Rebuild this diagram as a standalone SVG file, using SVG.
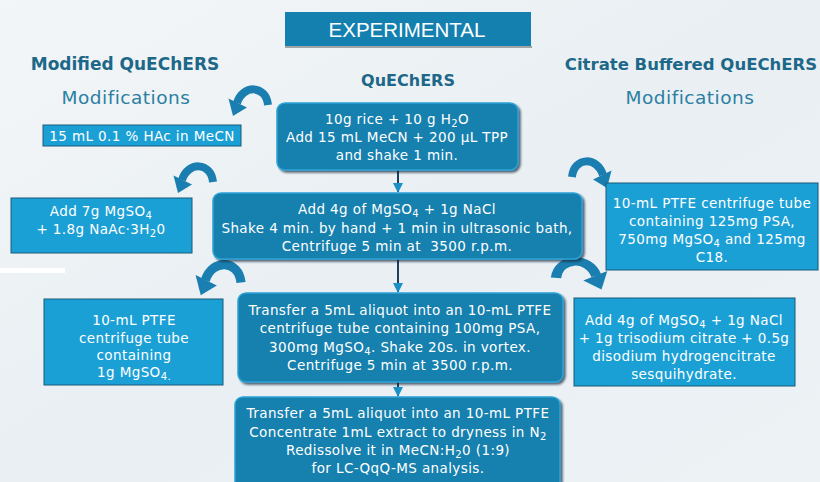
<svg xmlns="http://www.w3.org/2000/svg" xmlns:xlink="http://www.w3.org/1999/xlink" width="820" height="482" viewBox="0 0 820 482">
<defs>
<linearGradient id="bg" x1="0" y1="0" x2="1" y2="1">
<stop offset="0" stop-color="#F3F6F8"/>
<stop offset="0.5" stop-color="#E9EFF3"/>
<stop offset="1" stop-color="#EDF2F5"/>
</linearGradient>
<marker id="ah" viewBox="0 0 10 10" refX="9" refY="5" markerWidth="5" markerHeight="5" orient="auto">
<path d="M0,0 L10,5 L0,10 z" fill="#1A8FC8"/>
</marker>
<g id="carrow">
<path d="M40,17 C38,-3 15,-4 9,15" fill="none" stroke="#1A7FB0" stroke-width="8"/>
<polygon points="0.5,10.5 19,19.5 5,28" fill="#1A7FB0"/>
</g>
<filter id="sh" x="-5%" y="-5%" width="112%" height="120%">
<feDropShadow dx="2" dy="2" stdDeviation="0.8" flood-color="#0A2A3A" flood-opacity="0.7"/>
</filter>
</defs>
<style>
.t{font-family:"DejaVu Sans","Liberation Sans",sans-serif;fill:#FFFFFF;text-anchor:middle;font-size:13.5px;letter-spacing:0.4px}
.h{font-family:"DejaVu Sans","Liberation Sans",sans-serif;text-anchor:middle}
.dark{fill:#1680AE;stroke:#2BA3D6;stroke-width:1.5}
.light{fill:#1BA0D6;stroke:#1A5A78;stroke-width:1}
.conn{stroke:#1C3F5A;stroke-width:2;fill:none}
</style>
<rect x="0" y="0" width="820" height="482" fill="url(#bg)"/>
<rect x="0" y="268" width="65" height="5" fill="#FFFFFF"/>

<g id="title">
<rect x="285" y="12" width="246" height="34" fill="#1380B0"/>
<line x1="285" y1="47" x2="532" y2="47" stroke="#8A8A8A" stroke-width="1.5"/>
<text x="407" y="37" font-size="20.5" fill="#FFFFFF" text-anchor="middle" font-family="Liberation Sans, Arial, sans-serif">EXPERIMENTAL</text>
</g>

<g id="headers">
<text class="h" x="125" y="70" font-size="17" font-weight="bold" fill="#1D6888">Modified QuEChERS</text>
<text class="h" x="126" y="104" font-size="18.5" fill="#2A80A2" letter-spacing="0.5">Modifications</text>
<text class="h" x="408" y="86" font-size="16" font-weight="bold" fill="#1D6888">QuEChERS</text>
<text class="h" x="691" y="70" font-size="16.5" font-weight="bold" fill="#1D6888">Citrate Buffered QuEChERS</text>
<text class="h" x="690" y="104" font-size="18.5" fill="#2A80A2" letter-spacing="0.5">Modifications</text>
</g>

<g id="connectors">
<line class="conn" x1="398" y1="170" x2="398" y2="192" marker-end="url(#ah)"/>
<line class="conn" x1="398" y1="259" x2="398" y2="292" marker-end="url(#ah)"/>
<line class="conn" x1="398" y1="382" x2="398" y2="396" marker-end="url(#ah)"/>
<use xlink:href="#carrow" transform="translate(228,88)"/>
<use xlink:href="#carrow" transform="translate(173,165)"/>
<use xlink:href="#carrow" transform="translate(195,263) scale(1.15)"/>
<use xlink:href="#carrow" transform="translate(612,160) scale(-1,1)"/>
<use xlink:href="#carrow" transform="translate(608,260) scale(-1.3,1.05)"/>
</g>

<g id="step1">
<rect class="dark" x="277" y="103" width="241" height="67" rx="8" filter="url(#sh)"/>
<text class="t" x="397" y="124">10g rice + 10 g H<tspan font-size="10" dy="3">2</tspan><tspan dy="-3">O</tspan></text>
<text class="t" x="397" y="142">Add 15 mL MeCN + 200 µL TPP</text>
<text class="t" x="397" y="160">and shake 1 min.</text>
</g>

<g id="step2">
<rect class="dark" x="213" y="193" width="369" height="66" rx="8" filter="url(#sh)"/>
<text class="t" x="397" y="214">Add 4g of MgSO<tspan font-size="10" dy="3">4</tspan><tspan dy="-3"> + 1g NaCl</tspan></text>
<text class="t" x="397" y="233">Shake 4 min. by hand + 1 min in ultrasonic bath,</text>
<text class="t" x="397" y="251" xml:space="preserve">Centrifuge 5 min at  3500 r.p.m.</text>
</g>

<g id="step3">
<rect class="dark" x="238" y="293" width="325" height="89" rx="8" filter="url(#sh)"/>
<text class="t" x="400" y="315">Transfer a 5mL aliquot into an 10-mL PTFE</text>
<text class="t" x="400" y="333">centrifuge tube containing 100mg PSA,</text>
<text class="t" x="400" y="352">300mg MgSO<tspan font-size="10" dy="3">4</tspan><tspan dy="-3">. Shake 20s. in vortex.</tspan></text>
<text class="t" x="400" y="370">Centrifuge 5 min at 3500 r.p.m.</text>
</g>

<g id="step4">
<rect class="dark" x="235" y="397" width="325" height="95" rx="8" filter="url(#sh)"/>
<text class="t" x="398" y="418">Transfer a 5mL aliquot into an 10-mL PTFE</text>
<text class="t" x="398" y="437">Concentrate 1mL extract to dryness in N<tspan font-size="10" dy="3">2</tspan></text>
<text class="t" x="398" y="455">Redissolve it in MeCN:H<tspan font-size="10" dy="3">2</tspan><tspan dy="-3">0 (1:9)</tspan></text>
<text class="t" x="398" y="473">for LC-QqQ-MS analysis.</text>
</g>

<g id="mod1">
<rect class="light" x="43" y="125" width="198" height="21"/>
<text class="t" x="142" y="141">15 mL 0.1 % HAc in MeCN</text>
</g>

<g id="mod2">
<rect class="light" x="11" y="198" width="181" height="55"/>
<text class="t" x="101" y="216">Add 7g MgSO<tspan font-size="10" dy="3">4</tspan></text>
<text class="t" x="101" y="234">+ 1.8g NaAc·3H<tspan font-size="10" dy="3">2</tspan><tspan dy="-3">0</tspan></text>
</g>

<g id="mod3">
<rect class="light" x="44" y="299" width="179" height="86"/>
<text class="t" x="134" y="325">10-mL PTFE</text>
<text class="t" x="134" y="343">centrifuge tube</text>
<text class="t" x="134" y="360">containing</text>
<text class="t" x="134" y="377">1g MgSO<tspan font-size="10" dy="3">4.</tspan></text>
</g>

<g id="cit1">
<rect class="light" x="606" y="183" width="212" height="87"/>
<text class="t" x="712" y="208">10-mL PTFE centrifuge tube</text>
<text class="t" x="712" y="226">containing 125mg PSA,</text>
<text class="t" x="712" y="244">750mg MgSO<tspan font-size="10" dy="3">4</tspan><tspan dy="-3"> and 125mg</tspan></text>
<text class="t" x="712" y="262">C18.</text>
</g>

<g id="cit2">
<rect class="light" x="574" y="298" width="221" height="88"/>
<text class="t" x="684" y="325">Add 4g of MgSO<tspan font-size="10" dy="3">4</tspan><tspan dy="-3"> + 1g NaCl</tspan></text>
<text class="t" x="684" y="343">+ 1g trisodium citrate + 0.5g</text>
<text class="t" x="684" y="361">disodium hydrogencitrate</text>
<text class="t" x="684" y="379">sesquihydrate.</text>
</g>
</svg>
